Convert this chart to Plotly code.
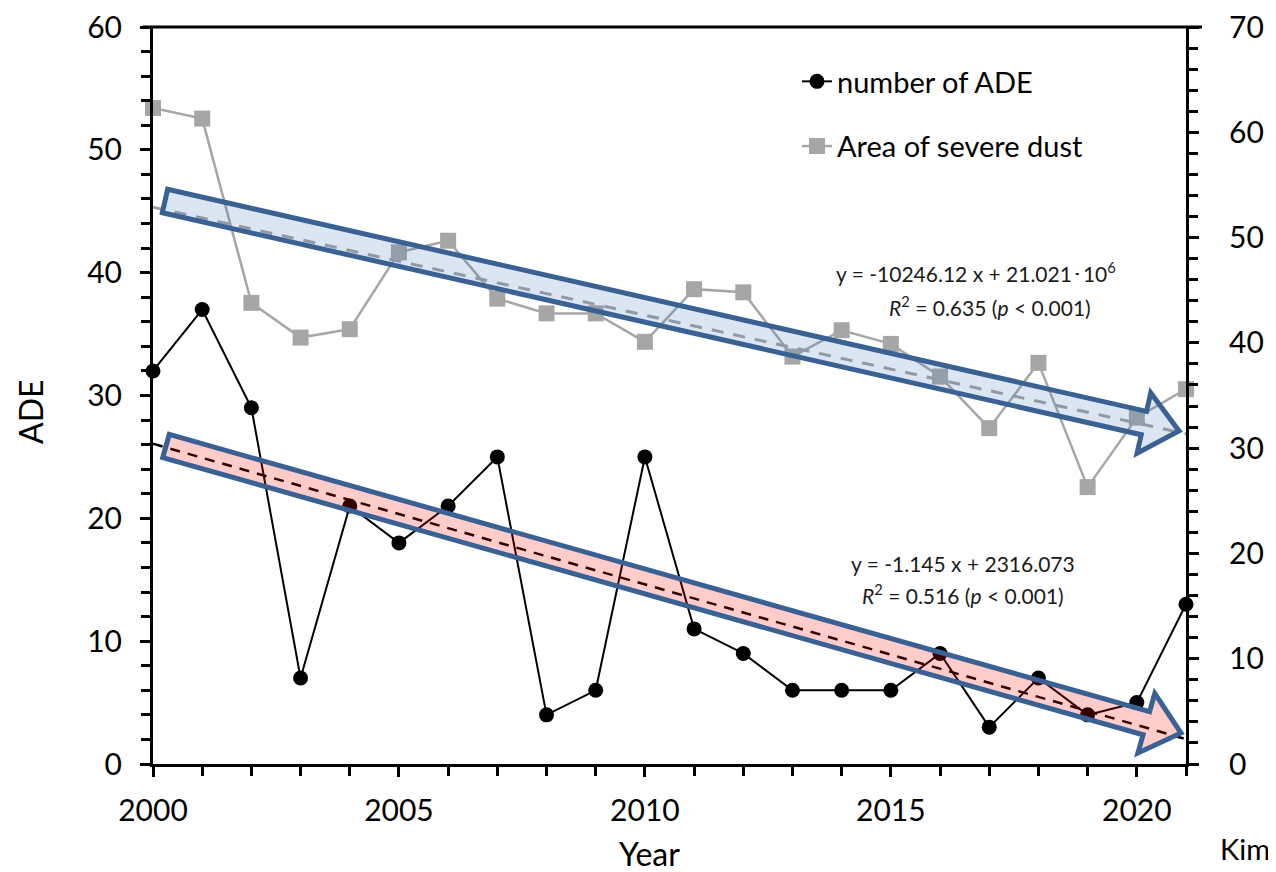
import math
import plotly.graph_objects as go

years = list(range(2000, 2022))
ade = [32, 37, 29, 7, 21, 18, 21, 25, 4, 6, 25, 11, 9, 6, 6, 6, 9, 3, 7, 4, 5, 13]
area = [62.3, 61.3, 43.8, 40.5, 41.3, 48.6, 49.7, 44.2, 42.8, 42.8, 40.1, 45.1,
        44.8, 38.7, 41.2, 39.9, 36.8, 31.9, 38.1, 26.3, 32.9, 35.6]

ade_slope, ade_icpt = -1.145, 2316.073
area_slope, area_icpt = -10246.12, 21.021e6  # km2, plotted in 10^4 km2

# page has an 8px body margin
OFF = 8
W, H = 1276 - OFF, 872 - OFF
PL, PR, PT, PB = 153, 1186, 27, 764   # plot area in page pixels
ML, MT = PL - OFF, PT - OFF
PW, PH = PR - PL, PB - PT
MR, MB = W - ML - PW, H - MT - PH
XR = (2000, 2021)
YR = (0, 60)
Y2R = (0, 70)
FONT = "Lato"


def px_to_data(px, py):
    x = XR[0] + (px - PL) * (XR[1] - XR[0]) / PW
    y = YR[0] + (PB - py) * (YR[1] - YR[0]) / PH
    return x, y


def px_to_paper(px, py):
    return (px - PL) / PW, (PB - py) / PH


def arrow_path(tail, tip, shaft_hw, head_hw, head_len):
    dx, dy = tip[0] - tail[0], tip[1] - tail[1]
    L = math.hypot(dx, dy)
    ux, uy = dx / L, dy / L
    nx, ny = -uy, ux
    bx, by = tip[0] - ux * head_len, tip[1] - uy * head_len
    pts = [
        (tail[0] + nx * shaft_hw, tail[1] + ny * shaft_hw),
        (bx + nx * shaft_hw, by + ny * shaft_hw),
        (bx + nx * head_hw, by + ny * head_hw),
        tip,
        (bx - nx * head_hw, by - ny * head_hw),
        (bx - nx * shaft_hw, by - ny * shaft_hw),
        (tail[0] - nx * shaft_hw, tail[1] - ny * shaft_hw),
    ]
    d = []
    for i, (px, py) in enumerate(pts):
        x, y = px_to_data(px, py)
        d.append(("M" if i == 0 else "L") + f"{x:.4f},{y:.4f}")
    return " ".join(d) + " Z"


fig = go.Figure()

fig.add_trace(go.Scatter(
    x=years, y=ade, name="number of ADE", mode="lines+markers",
    line=dict(color="black", width=2),
    marker=dict(symbol="circle", size=15, color="black"),
    cliponaxis=False, legendgroup="a",
))
fig.add_trace(go.Scatter(
    x=years, y=area, name="Area of severe dust", mode="lines+markers", yaxis="y2",
    line=dict(color="#A6A6A6", width=2.5),
    marker=dict(symbol="square", size=16, color="#A6A6A6"),
    cliponaxis=False, legendgroup="b",
))

tx = [years[0], years[-1]]
fig.add_trace(go.Scatter(
    x=tx, y=[ade_slope * x + ade_icpt for x in tx], mode="lines", showlegend=False,
    line=dict(color="black", width=2.5, dash="10px,8px"), cliponaxis=False,
))
fig.add_trace(go.Scatter(
    x=tx, y=[(area_slope * x + area_icpt) / 1e4 for x in tx], mode="lines", showlegend=False,
    yaxis="y2", line=dict(color="#A0A0A0", width=3, dash="12px,10px"), cliponaxis=False,
))

shapes = [
    dict(type="path", xref="x", yref="y", layer="above",
         path=arrow_path((165, 201), (1179, 431), 12, 31, 36),
         fillcolor="rgba(79,129,189,0.2)", line=dict(color="#3A6194", width=5)),
    dict(type="path", xref="x", yref="y", layer="above",
         path=arrow_path((166, 446), (1181, 733), 12, 31, 36),
         fillcolor="rgba(255,0,0,0.2)", line=dict(color="#3A6194", width=5)),
    # top frame line of the plot area
    dict(type="line", xref="paper", yref="paper", x0=-10 / PW, x1=1 + 16 / PW, y0=1, y1=1,
         line=dict(color="black", width=3), layer="above"),
]

annotations = []


def ann(text, px, py, size=21, xanchor="center", color="#1a1a1a"):
    x, y = px_to_paper(px, py)
    annotations.append(dict(text=text, x=x, y=y, xref="paper", yref="paper",
                            xanchor=xanchor, yanchor="middle", showarrow=False,
                            font=dict(family=FONT, size=size, color=color)))
    return annotations[-1]


ann("y = -10246.12 x + 21.021\uff6510<sup>6</sup>", 976, 272)
ann("<i>R</i><sup>2</sup> = 0.635 (<i>p</i> < 0.001)", 990, 306)
ann("y = -1.145 x + 2316.073", 963, 563)
ann("<i>R</i><sup>2</sup> = 0.516 (<i>p</i> < 0.001)", 963, 594)
ann("ADE", 31, 412, size=32, color="black")["textangle"] = -90
ann("Year", 649, 853, size=32, color="black")
ann("Kimu", 1218, 848, size=29, xanchor="left", color="black")

axis_common = dict(
    showline=True, linecolor="black", linewidth=3, showgrid=False, zeroline=False,
    ticks="outside", ticklen=10, tickwidth=2.5, tickcolor="black",
    tickfont=dict(family=FONT, size=30, color="black"),
    ticklabeloverflow="allow",
)
minor = dict(ticks="outside", ticklen=9, tickwidth=2.5, tickcolor="black")

fig.update_layout(
    width=W, height=H, margin=dict(l=ML, r=MR, t=MT, b=MB, autoexpand=False),
    paper_bgcolor="white", plot_bgcolor="white",
    font=dict(family=FONT, color="black"),
    xaxis=dict(range=list(XR), dtick=5, tick0=2000,
               ticklabelstandoff=8, minor=dict(dtick=1, **minor), **axis_common),
    yaxis=dict(range=list(YR), dtick=10, ticklabelstandoff=12,
               minor=dict(dtick=2, **minor), **axis_common),
    yaxis2=dict(range=list(Y2R), dtick=10, overlaying="y", side="right", ticklabelstandoff=24,
                minor=dict(dtick=2, **minor), **axis_common),
    legend=dict(x=(797 - PL) / PW, y=(PB - 56) / PH, xanchor="left", yanchor="top",
                bgcolor="rgba(0,0,0,0)", font=dict(family=FONT, size=29, color="black"),
                tracegroupgap=24, itemwidth=30),
    shapes=shapes,
    annotations=annotations,
)

fig.write_html("out.html")
